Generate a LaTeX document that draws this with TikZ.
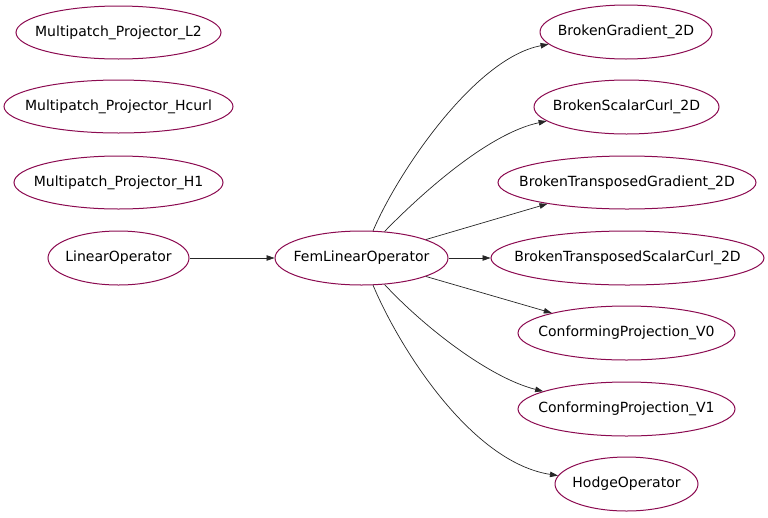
\documentclass[tikz,border=0pt]{standalone}
\usepackage{fontspec}
\setmainfont{DejaVu Sans}
\usetikzlibrary{arrows.meta,shapes.geometric}
\definecolor{edgepurple}{HTML}{8B0A50}
\newcommand\lbl[1]{\makebox[0pt]{#1}}
\begin{document}
\begin{tikzpicture}[x=1pt,y=-1pt,
  cls/.style={draw=edgepurple,line width=1pt,ellipse,inner sep=0pt,font=\fontsize{14}{16}\selectfont},
  link/.style={draw=black!85,line width=0.7pt,-{Triangle[length=8pt,width=5.5pt]}}]
\useasboundingbox (0,0) rectangle (768,517);
\node[cls,minimum width=205,minimum height=53] (mpl2) at (118.5,32.5) {\lbl{Multipatch\_Projector\_L2}};
\node[cls,minimum width=229,minimum height=53] (mphc) at (118.5,106.5) {\lbl{Multipatch\_Projector\_Hcurl}};
\node[cls,minimum width=209,minimum height=53] (mph1) at (118.5,182.5) {\lbl{Multipatch\_Projector\_H1}};
\node[cls,minimum width=141,minimum height=54] (lin) at (118.5,258) {\lbl{LinearOperator}};
\node[cls,minimum width=173,minimum height=54] (fem) at (361.5,258) {\lbl{FemLinearOperator}};
\node[cls,minimum width=172,minimum height=54] (bg) at (626,32) {\lbl{BrokenGradient\_2D}};
\node[cls,minimum width=185,minimum height=54] (bsc) at (626.5,107) {\lbl{BrokenScalarCurl\_2D}};
\node[cls,minimum width=258,minimum height=53] (btg) at (627,182.5) {\lbl{BrokenTransposedGradient\_2D}};
\node[cls,minimum width=273,minimum height=54] (btsc) at (627.5,258) {\lbl{BrokenTransposedScalarCurl\_2D}};
\node[cls,minimum width=217,minimum height=54] (cp0) at (626.5,333) {\lbl{ConformingProjection\_V0}};
\node[cls,minimum width=217,minimum height=54] (cp1) at (626.5,409) {\lbl{ConformingProjection\_V1}};
\node[cls,minimum width=143,minimum height=54] (hod) at (626.5,484) {\lbl{HodgeOperator}};
\draw[link] (lin) -- (fem);
\draw[link] (fem.east) -- (btsc.west);
\draw[link] (fem.16) -- (btg.195);
\draw[link] (fem.-16) -- (cp0.165.5);
\draw[link] (fem.67) .. controls (398,172) and (475,58) .. (bg.189);
\draw[link] (fem.49) .. controls (425,190) and (490,133) .. (bsc.190);
\draw[link] (fem.-49) .. controls (425,328) and (490,378) .. (cp1.168.5);
\draw[link] (fem.-67) .. controls (398,345) and (470,462) .. (hod.173.5);
\end{tikzpicture}
\end{document}
